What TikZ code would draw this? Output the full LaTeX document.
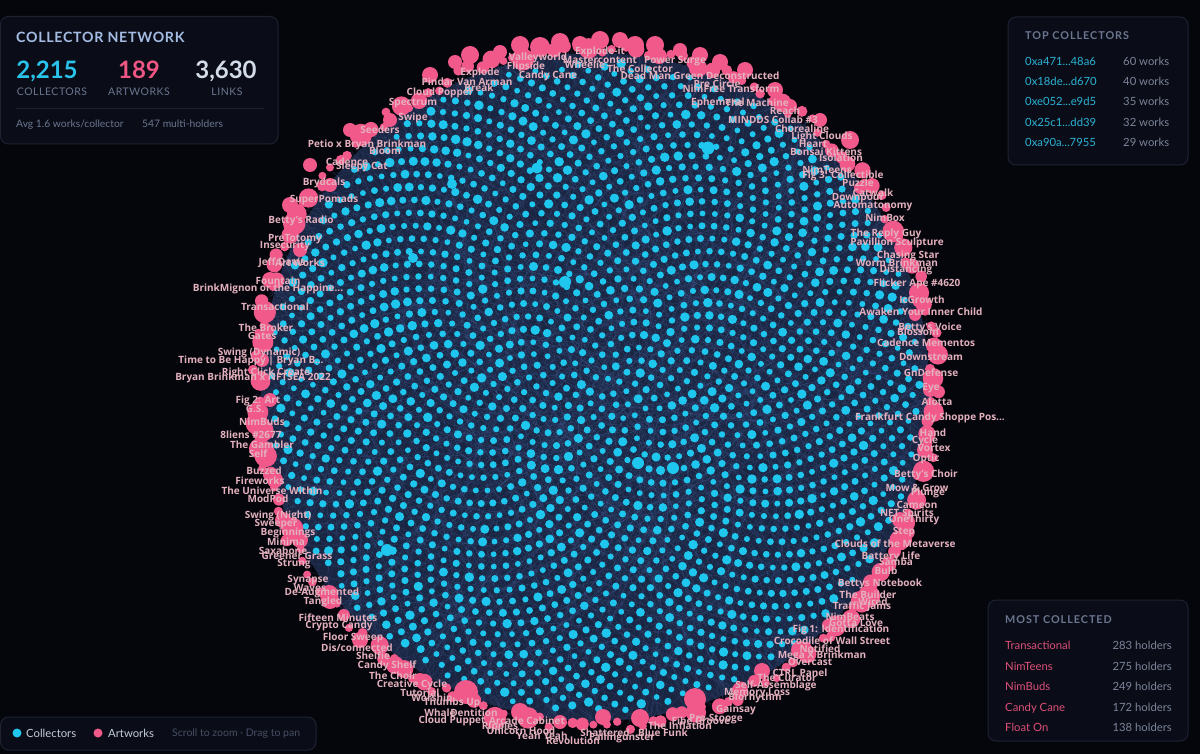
\documentclass[tikz,border=0pt]{standalone}
\usepackage{fontspec}
\setmainfont{Open Sans}
\newfontfamily\uifont{Lato}
\newfontfamily\uisp{Lato}[LetterSpace=5.0]
\newfontfamily\uiwide{Lato}[LetterSpace=9.0]
\definecolor{bgc}{HTML}{05060C}
\definecolor{panelbg}{HTML}{0A0D17}
\definecolor{panelln}{HTML}{1C2232}
\definecolor{cyn}{HTML}{1FC7EF}
\definecolor{pnk}{HTML}{F2598B}
\definecolor{labc}{HTML}{E3B0BD}
\definecolor{haze}{HTML}{192541}
\definecolor{linkc}{HTML}{4A64A0}
\definecolor{titlec}{HTML}{A4BCE4}
\definecolor{mutedc}{HTML}{6B7690}
\definecolor{dimc}{HTML}{7C8499}
\definecolor{numw}{HTML}{D4DCEA}
\definecolor{numc}{HTML}{29C3EC}
\definecolor{nump}{HTML}{EF5683}
\definecolor{addrc}{HTML}{2BB3D6}
\definecolor{artc}{HTML}{DD4F78}
\definecolor{hintc}{HTML}{474E63}
\newcounter{lbc}
\newcommand\lbl[3]{\stepcounter{lbc}\node[artlabel] (lab\arabic{lbc}) at (#1,#2) {#3};}
\newcommand\hsh[2]{(abs(sin((#1)*12.9898+(#2)*78.233))*43758.5453-floor(abs(sin((#1)*12.9898+(#2)*78.233))*43758.5453))}
\newcommand\tcrow[4]{\node[prow,text=addrc] (tca#1) at (1025,#4) {#2};\node[prow,text=dimc] (tcw#1) at (1123,#4) {#3 works};}
\newcommand\mcrow[4]{\node[prow,text=artc] (mca#1) at (1005,#4) {#2};\node[prowr] (mcw#1) at (1172,#4) {#3 holders};}
\begin{document}
\begin{tikzpicture}[x=1pt,y=-1pt,
  artlabel/.style={text=labc,font=\bfseries\fontsize{10}{10}\selectfont,inner sep=0pt},
  panel/.style={fill=panelbg,draw=panelln,line width=1pt,rounded corners=8pt},
  link/.style={draw=linkc,line width=0.4pt,opacity=0.25},
  ptitle/.style={font=\uiwide\bfseries\fontsize{10.8}{10.8}\selectfont,text=mutedc,anchor=base west,inner sep=0pt},
  prow/.style={font=\uifont\fontsize{11.3}{11.3}\selectfont,anchor=base west,inner sep=0pt},
  prowr/.style={font=\uifont\fontsize{11.3}{11.3}\selectfont,anchor=base east,inner sep=0pt,text=dimc}]
\fill[bgc] (0,0) rectangle (1200,754);
\useasboundingbox (0,0) rectangle (1200,754);
% haze disk
\fill[haze] (595,387) circle (334);
% links
\foreach \i in {1,...,1100}{
  \edef\pa{\fpeval{360*\hsh{\i}{5}}}
  \edef\jj{\fpeval{1+floor(2214*\hsh{\i}{6})}}
  \edef\xa{\fpeval{595+339*cosd(\pa)}}
  \edef\ya{\fpeval{387+339*sind(\pa)}}
  \edef\xb{\fpeval{595+325*sqrt(\jj/2215)*cosd(\jj*137.50776)}}
  \edef\yb{\fpeval{387+325*sqrt(\jj/2215)*sind(\jj*137.50776)}}
  \draw[link] (\xa,\ya) -- (\xb,\yb);
}
% collectors
\foreach \j in {1,...,2215}{
  \edef\xb{\fpeval{595+325*sqrt(\j/2215)*cosd(\j*137.50776)}}
  \edef\yb{\fpeval{387+325*sqrt(\j/2215)*sind(\j*137.50776)}}
  \edef\sz{\fpeval{2.9+0.8*\hsh{\j}{1}+1.1*(\hsh{\j}{2}>0.82)}}
  \fill[cyn] (\xb,\yb) circle (\sz);
}
\foreach \cx/\cy/\cr in {708/148/6.5,537/168/5.5,452/184/5,565/282/6,413/258/5,638/463/6,673/468/6,387/550/6}{
  \fill[cyn] (\cx,\cy) circle (\cr);
}
% artworks
\foreach \k in {1,...,189}{
  \edef\pa{\fpeval{\k*360/189+1.2*\hsh{\k}{3}}}
  \edef\rr{\fpeval{334+12*\hsh{\k}{4}}}
  \edef\xa{\fpeval{595+\rr*cosd(\pa)}}
  \edef\ya{\fpeval{387+\rr*sind(\pa)}}
  \edef\sz{\fpeval{4+7.5*(\hsh{\k}{7})^2}}
  \fill[pnk] (\xa,\ya) circle (\sz);
}
\foreach \cx/\cy/\cr in {540/47/10,635/45/9,580/44/8,500/52/7,680/50/7,466/692/12,695/699/11,762/671/8,882/570/7,905/540/7,420/680/7,603/717/8,560/722/7,828/625/6,300/250/7,270/400/7,330/185/7,390/120/7,860/188/6,915/315/6,620/40/8,455/62/7,720/62/8,790/106/7,268/330/6,283/520/8,925/470/6,430/75/8,470/55/9,520/45/9,560/42/9,600/40/9,655/45/9,700/55/8,745/70/8,775/90/8,820/120/7,850/140/9,350/130/7,310/165/7,290/205/8,270/280/8,262/360/7,265/450/9,275/480/8,300/540/8,330/600/9,360/640/8,395/665/9,520/712/9,640/718/9,740/690/8,800/650/9,860/600/9,900/520/8,925/450/8,930/390/7,920/300/8,890/230/7}{
  \fill[pnk] (\cx,\cy) circle (\cr);
}
% labels top
\lbl{600}{52}{Explode-it}
\lbl{538}{58}{Valleyworld}
\lbl{600}{60}{Mastercontent}
\lbl{675}{61}{Power Surge}
\lbl{526}{67}{Flipside}
\lbl{585}{65}{Wheelie}
\lbl{640}{69}{The Collector}
\lbl{480}{73}{Explode}
\lbl{548}{76}{Candy Cane}
\lbl{700}{76}{Dead Man Green Deconstructed}
\lbl{467}{82}{Pindar Van Arman}
\lbl{717}{84}{Pre Circle}
\lbl{479}{88}{Break}
\lbl{440}{93}{Cloud Popper}
\lbl{731}{89}{NimFree Transform}
\lbl{718}{103}{Ephemeral}
\lbl{757}{103}{The Machine}
\lbl{785}{111}{Reach}
\lbl{413}{103}{Spectrum}
\lbl{413}{118}{Swipe}
\lbl{773}{120}{MINDDS Collab \#3}
\lbl{380}{130}{Seeders}
\lbl{802}{129}{Chorealine}
\lbl{822}{137}{Light Clouds}
\lbl{367}{145}{Petio x Bryan Brinkman}
\lbl{385}{151}{Bloom}
\lbl{813}{144}{Heart}
\lbl{826}{152}{Bonsai Kittens}
\lbl{347}{162}{Cadence}
\lbl{362}{167}{Sleepy Cat}
\lbl{841}{158}{Isolation}
\lbl{827}{170}{NimTeens}
\lbl{843}{176}{Fig 3: Collectible}
\lbl{858}{183}{Puzzle}
\lbl{873}{193}{Catwalk}
\lbl{858}{198}{Downpour}
\lbl{873}{206}{Automatonomy}
\lbl{885}{218}{NimBox}
% right
\lbl{886}{234}{The Reply Guy}
\lbl{897}{243}{Pavillion Sculpture}
\lbl{908}{256}{Chasing Star}
\lbl{897}{263}{Worm Brinkman}
\lbl{906}{270}{Distancing}
\lbl{917}{284}{Flicker Ape \#4620}
\lbl{922}{300}{IcGrowth}
\lbl{921}{312}{Awaken Your Inner Child}
\lbl{918}{332}{Blossom}
\lbl{930}{328}{Betty's Voice}
\lbl{926}{343}{Cadence Mementos}
\lbl{931}{357}{Downstream}
\lbl{931}{373}{GnDefense}
\lbl{931}{388}{Eye}
\lbl{937}{402}{Alotta}
\lbl{930}{418}{Frankfurt Candy Shoppe Pos...}
\lbl{933}{433}{Hand}
\lbl{925}{441}{Cycle}
\lbl{934}{448}{Vortex}
\lbl{926}{459}{Optic}
\lbl{926}{475}{Betty's Choir}
\lbl{917}{488}{Mow \& Grow}
\lbl{928}{493}{Plunge}
\lbl{917}{505}{Cameon}
\lbl{907}{514}{NFT Spirits}
\lbl{914}{520}{OneThirty}
\lbl{904}{532}{Step}
\lbl{895}{544}{Clouds of the Metaverse}
\lbl{891}{557}{Battery Life}
\lbl{896}{562}{Samba}
\lbl{886}{571}{Bulb}
\lbl{880}{584}{Bettys Notebook}
\lbl{868}{595}{The Builder}
\lbl{873}{602}{Wired}
\lbl{862}{607}{Traffic Jams}
\lbl{850}{617}{NimBeats}
\lbl{856}{623}{Gotta Love}
\lbl{841}{630}{Fig 1: Identification}
\lbl{832}{641}{Crocodile of Wall Street}
\lbl{820}{649}{Notified}
\lbl{822}{656}{Mega X Brinkman}
\lbl{810}{662}{Overcast}
\lbl{800}{673}{CTRL Panel}
\lbl{787}{678}{The Curator}
\lbl{776}{686}{Self-Assemblage}
\lbl{757}{693}{Memory Loss}
\lbl{755}{698}{Biorhythm}
\lbl{736}{710}{Gainsay}
% bottom
\lbl{716}{719}{Pre-Stooge}
\lbl{701}{721}{Fibe Groove}
\lbl{680}{726}{The Inflation}
\lbl{663}{733}{Blue Funk}
\lbl{622}{738}{Fallingunster}
\lbl{605}{733}{Shattered}
\lbl{573}{741}{Revolution}
\lbl{542}{736}{Yeah Yeah}
\lbl{521}{731}{Unicorn Hood}
\lbl{500}{727}{Ripples}
\lbl{527}{721}{Arcade Cabinet}
\lbl{452}{721}{Cloud Puppet}
\lbl{440}{713}{Whale}
\lbl{474}{713}{Dentition}
\lbl{452}{703}{Thumbs Up}
\lbl{432}{699}{Worship}
\lbl{420}{693}{Tutorial}
\lbl{412}{685}{Creative Cycle}
% left lower
\lbl{393}{676}{The Choir}
\lbl{387}{666}{Candy Shelf}
\lbl{373}{656}{Shelfie}
\lbl{357}{648}{Dis/connected}
\lbl{353}{638}{Floor Sweep}
\lbl{339}{626}{Crypto Candy}
\lbl{338}{618}{Fifteen Minutes}
\lbl{323}{602}{Tangled}
\lbl{322}{593}{De-Augmented}
\lbl{310}{588}{Waves}
\lbl{308}{580}{Synapse}
\lbl{294}{564}{Strung}
\lbl{297}{556}{Greener Grass}
\lbl{283}{551}{Saxabone}
\lbl{286}{542}{Minima}
\lbl{288}{533}{Beginnings}
\lbl{276}{524}{Sweeper}
\lbl{278}{516}{Swing (Night)}
\lbl{268}{499}{ModPod}
\lbl{272}{491}{The Universe Within}
\lbl{260}{481}{Fireworks}
\lbl{264}{471}{Buzzed}
\lbl{258}{454}{Self}
\lbl{262}{445}{The Gambler}
\lbl{251}{435}{8liens \#2677}
\lbl{262}{422}{NimBuds}
\lbl{255}{409}{G.S.}
\lbl{258}{401}{Fig 2: Art}
% left upper
\lbl{253}{378}{Bryan Brinkman x NFTSEA 2022}
\lbl{266}{373}{Right Click Create}
\lbl{251}{361}{Time to Be Happy | Bryan B...}
\lbl{259}{353}{Swing (Dynamic)}
\lbl{262}{336}{Gates}
\lbl{266}{328}{The Broker}
\lbl{275}{307}{Transactional}
\lbl{268}{289}{BrinkMignon or the Happine...}
\lbl{278}{281}{Fountain}
\lbl{282}{263}{Jeff Davis}
\lbl{300}{263}{Art Works}
\lbl{285}{246}{Insecurity}
\lbl{295}{239}{PreTotomy}
\lbl{301}{221}{Betty's Radio}
\lbl{324}{200}{SuperPomads}
\lbl{324}{183}{Brydcals}
% panel: collector network
\draw[panel] (0.5,16.5) rectangle (278,144);
\node[font=\uisp\bfseries\fontsize{14.2}{14}\selectfont,text=titlec,anchor=base west,inner sep=0pt] (ttl) at (16,43) {COLLECTOR NETWORK};
\node[font=\uifont\bfseries\fontsize{24}{24}\selectfont,text=numc,anchor=base,inner sep=0pt] (ncol) at (47,78.5) {2,215};
\node[font=\uifont\bfseries\fontsize{24}{24}\selectfont,text=nump,anchor=base,inner sep=0pt] (nart) at (139,78.5) {189};
\node[font=\uifont\bfseries\fontsize{24}{24}\selectfont,text=numw,anchor=base,inner sep=0pt] (nlnk) at (226,78.5) {3,630};
\node[font=\uisp\fontsize{10.5}{10.5}\selectfont,text=mutedc,anchor=base,inner sep=0pt] (tcol) at (52,96) {COLLECTORS};
\node[font=\uisp\fontsize{10.5}{10.5}\selectfont,text=mutedc,anchor=base,inner sep=0pt] (tart) at (139,96) {ARTWORKS};
\node[font=\uisp\fontsize{10.5}{10.5}\selectfont,text=mutedc,anchor=base,inner sep=0pt] (tlnk) at (227,96) {LINKS};
\draw[panelln,line width=0.8pt] (16,108) -- (264,108);
\node[font=\uifont\fontsize{10.3}{10}\selectfont,text=mutedc,anchor=base west,inner sep=0pt] (avg) at (16,128) {Avg 1.6 works/collector};
\node[font=\uifont\fontsize{10.3}{10}\selectfont,text=mutedc,anchor=base west,inner sep=0pt] (mh) at (142,128) {547 multi-holders};
% panel: top collectors
\draw[panel] (1008,17) rectangle (1188,165);
\node[ptitle] (tct) at (1025,39.5) {TOP COLLECTORS};
\tcrow{1}{0xa471...48a6}{60}{66}
\tcrow{2}{0x18de...d670}{40}{86}
\tcrow{3}{0xe052...e9d5}{35}{106}
\tcrow{4}{0x25c1...dd39}{32}{127}
\tcrow{5}{0xa90a...7955}{29}{147}
% panel: most collected
\draw[panel] (988,600) rectangle (1188,741);
\node[ptitle] (tmc) at (1005,623.5) {MOST COLLECTED};
\mcrow{1}{Transactional}{283}{649}
\mcrow{2}{NimTeens}{275}{670}
\mcrow{3}{NimBuds}{249}{690}
\mcrow{4}{Candy Cane}{172}{711}
\mcrow{5}{Float On}{138}{731}
% legend
\draw[panel] (0.5,717) rectangle (316,750);
\fill[cyn] (17,733) circle (4.5);
\node[prow,text=numw!85!mutedc] (lgc) at (26,737) {Collectors};
\fill[pnk] (98,733) circle (4.5);
\node[prow,text=numw!85!mutedc] (lga) at (108,737) {Artworks};
\node[font=\uifont\fontsize{10.5}{10.5}\selectfont,text=hintc,anchor=base west,inner sep=0pt] (hint) at (172,736.5) {Scroll to zoom · Drag to pan};
\end{tikzpicture}
\end{document}
